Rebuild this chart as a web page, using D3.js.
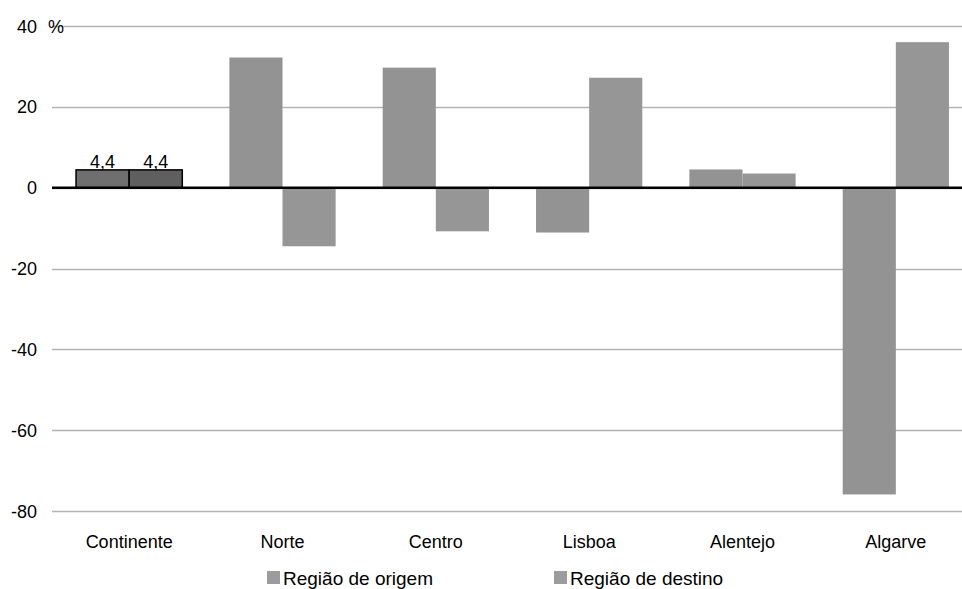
<!DOCTYPE html>
<html><head><meta charset="utf-8">
<script src="https://cdn.jsdelivr.net/npm/d3@7"></script>
<style>body{margin:0;background:#fff}svg{display:block;font-family:"Liberation Sans",Arial,sans-serif}</style>
</head><body>
<svg id="c" width="962" height="589"></svg>
<script>
const categories = ["Continente","Norte","Centro","Lisboa","Alentejo","Algarve"];
const origem = [4.4, 32.2, 29.7, -11.1, 4.5, -75.9];
const destino = [4.4, -14.5, -10.8, 27.2, 3.5, 36.0];
const seriesNames = ["Região de origem","Região de destino"];
const yTicks = [40,20,0,-20,-40,-60,-80];

const svg = d3.select("#c");
const y = d3.scaleLinear().domain([-80,40]).range([511,26]);
const x = d3.scaleBand().domain(categories).range([52.5,972.5]).paddingInner(0.307).paddingOuter(0.1535);
const x1 = d3.scaleBand().domain([0,1]).range([0,x.bandwidth()]);

// gridlines
svg.append("g").selectAll("line").data(yTicks).join("line")
  .attr("x1",52).attr("x2",962).attr("y1",d=>Math.round(y(d))+0.5).attr("y2",d=>Math.round(y(d))+0.5)
  .attr("stroke","#b3b3b3").attr("stroke-width",1.5);

// y labels
svg.append("g").selectAll("text").data(yTicks).join("text")
  .attr("x",37).attr("y",d=>y(d)+6.5).attr("text-anchor","end")
  .attr("font-size",18).attr("fill","#000").text(d=>d);
svg.append("text").attr("x",48).attr("y",y(40)+6.5).attr("font-size",18).text("%");

const fills = [["#6f6f6f","#939393"],["#5f5f5f","#969696"]];
const data = [];
categories.forEach((c,i)=>{
  data.push({c,s:0,v:origem[i],i});
  data.push({c,s:1,v:destino[i],i});
});
svg.append("g").selectAll("rect").data(data).join("rect")
  .attr("x",d=>x(d.c)+x1(d.s))
  .attr("width",x1.bandwidth())
  .attr("y",d=>y(Math.max(0,d.v)))
  .attr("height",d=>Math.abs(y(d.v)-y(0)))
  .attr("fill",d=>d.i===0?fills[d.s][0]:fills[d.s][1])
  .attr("stroke",d=>d.i===0?"#000":"none")
  .attr("stroke-width",1.5);

// labels for Continente
svg.append("g").selectAll("text").data(data.filter(d=>d.i===0)).join("text")
  .attr("x",d=>x(d.c)+x1(d.s)+x1.bandwidth()/2)
  .attr("y",d=>y(d.v)-1.5)
  .attr("text-anchor","middle").attr("font-size",18)
  .text(d=>d3.format(".1f")(d.v).replace(".",","));

// zero line
svg.append("line").attr("x1",52).attr("x2",962).attr("y1",y(0)).attr("y2",y(0))
  .attr("stroke","#000").attr("stroke-width",2.5);

// x labels
svg.append("g").selectAll("text").data(categories).join("text")
  .attr("x",d=>x(d)+x.bandwidth()/2).attr("y",548)
  .attr("text-anchor","middle").attr("font-size",18).text(d=>d);

// legend
const legX = [267,554];
const lg = svg.append("g").selectAll("g").data(seriesNames).join("g")
  .attr("transform",(d,i)=>`translate(${legX[i]},571)`);
lg.append("rect").attr("width",13).attr("height",13).attr("fill","#9c9c9c");
lg.append("text").attr("x",16).attr("y",13.5).attr("font-size",19).text(d=>d);
</script>
</body></html>
